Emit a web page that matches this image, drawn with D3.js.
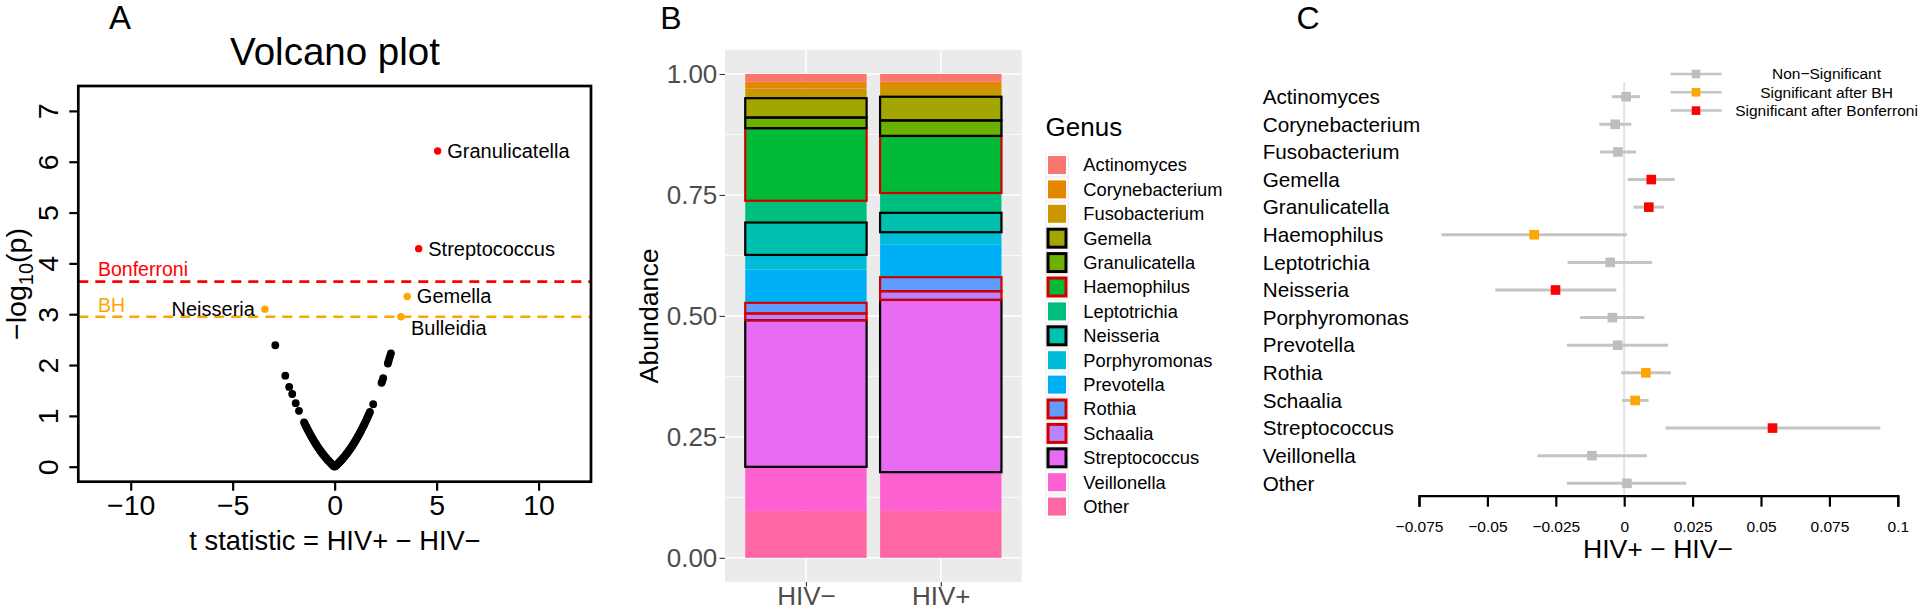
<!DOCTYPE html>
<html><head><meta charset="utf-8">
<script src="https://cdn.jsdelivr.net/npm/d3@7"></script>
<style>
body{margin:0;background:#fff;}
svg{display:block;font-family:"Liberation Sans",Arial,Helvetica,sans-serif;}
</style>
</head><body>
<svg id="chart" width="1920" height="610"></svg>
<script>
// ================= DATA =================
// Panel A: volcano plot
const volcanoNames = ["Granulicatella","Streptococcus","Gemella","Bulleidia","Neisseria"];
const volcanoT     = [5.05, 4.12, 3.56, 3.25, -3.42];
const volcanoLogP  = [6.21, 4.29, 3.35, 2.95, 3.10];
const volcanoSig   = ["bonf","bonf","bh","bh","bh"];
const volcanoLabelSide = ["right","right","right","belowright","left"];
const bonferroniThreshold = 3.64;
const bhThreshold = 2.95;
// other (non-significant) genera: [t, -log10 p]
const otherPointsT = [
 -2.91,-2.42,-2.23,-2.08,-1.91,-1.75,
 -1.50,-1.46,-1.42,-1.38,-1.34,-1.30,-1.26,-1.22,-1.18,-1.14,-1.10,-1.06,-1.02,-0.98,-0.94,-0.90,-0.86,-0.82,-0.78,-0.74,-0.70,-0.66,-0.62,-0.58,-0.54,-0.50,-0.46,-0.42,-0.38,-0.34,-0.30,-0.26,-0.22,-0.18,-0.14,-0.10,-0.06,-0.03,-0.01,
 0.02,0.06,0.10,0.14,0.18,0.22,0.26,0.30,0.34,0.38,0.42,0.46,0.50,0.54,0.58,0.62,0.66,0.70,0.74,0.78,0.82,0.86,0.90,0.94,0.98,1.02,1.06,1.10,1.14,1.18,1.22,1.26,1.30,1.34,1.38,1.42,1.46,1.50,1.54,1.58,1.62,1.66,1.70,1.73,
 1.89,2.30,2.34,2.38,2.61,2.64,2.68,2.72,2.76];
const otherPointsLogP = [
 2.39,1.79,1.57,1.43,1.25,1.10,
 0.874,0.841,0.808,0.776,0.744,0.713,0.683,0.653,0.623,0.595,0.567,0.539,0.512,0.485,0.459,0.434,0.409,0.385,0.361,0.338,0.315,0.293,0.271,0.250,0.230,0.210,0.190,0.171,0.153,0.134,0.117,0.100,0.083,0.067,0.051,0.036,0.021,0.010,0.003,
 0.007,0.021,0.036,0.051,0.067,0.083,0.100,0.117,0.134,0.153,0.171,0.190,0.210,0.230,0.250,0.271,0.293,0.315,0.338,0.361,0.385,0.409,0.434,0.459,0.485,0.512,0.539,0.567,0.595,0.623,0.653,0.683,0.713,0.744,0.776,0.808,0.841,0.874,0.908,0.943,0.978,1.014,1.050,1.077,
 1.23,1.65,1.69,1.74,2.03,2.07,2.13,2.18,2.23];
const volcanoXTicks = [-10,-5,0,5,10];
const volcanoYTicks = [0,1,2,3,4,5,6,7];

// Panel B: relative abundance
const groups = ["HIV\u2212","HIV+"];
const genera = ["Actinomyces","Corynebacterium","Fusobacterium","Gemella","Granulicatella","Haemophilus","Leptotrichia","Neisseria","Porphyromonas","Prevotella","Rothia","Schaalia","Streptococcus","Veillonella","Other"];
const abundHIVneg = [0.016,0.014,0.020,0.040,0.022,0.150,0.045,0.067,0.030,0.069,0.022,0.014,0.303,0.091,0.097];
const abundHIVpos = [0.016,0.011,0.020,0.049,0.032,0.118,0.041,0.040,0.025,0.068,0.029,0.018,0.356,0.080,0.097];
const generaSig   = ["ns","ns","ns","bonf","bonf","bh","ns","bonf","ns","ns","bh","bh","bonf","ns","ns"];
const abundTicks = [0,0.25,0.5,0.75,1];

// Panel C: difference HIV+ - HIV- with CI
const diffEst = [0.0007,-0.0033,-0.0023,0.0099,0.0090,-0.0329,-0.0051,-0.0251,-0.0043,-0.0024,0.0079,0.0040,0.0542,-0.0118,0.0010];
const diffLo  = [-0.0045,-0.0091,-0.0088,0.0013,0.0034,-0.0668,-0.0207,-0.0471,-0.0161,-0.0209,-0.0011,-0.0008,0.0151,-0.0317,-0.0209];
const diffHi  = [0.0058,0.0026,0.0043,0.0185,0.0145,0.0010,0.0102,-0.0029,0.0074,0.0160,0.0171,0.0089,0.0936,0.0083,0.0227];
const diffTicks = [-0.075,-0.05,-0.025,0,0.025,0.05,0.075,0.1];
const diffTickLabels = ["\u22120.075","\u22120.05","\u22120.025","0","0.025","0.05","0.075","0.1"];
const sigLevels = ["ns","bh","bonf"];
const sigLabels = ["Non\u2212Significant","Significant after BH","Significant after Bonferroni"];

// ================= STYLES =================
const genusColors = ["#F8766D","#E58700","#C99800","#A3A500","#6BB100","#00BA38","#00BF7D","#00C0AF","#00BCD8","#00B0F6","#619CFF","#B983FF","#E76BF3","#FD61D1","#FF67A4"];
const volcanoColor = {bonf:"#FF0000", bh:"#FFA500"};
const borderColor = {bonf:"#000000", bh:"#D00000", ns:null};
const forestColor = {ns:"#BEBEBE", bh:"#FFA500", bonf:"#FF0000"};

const svg = d3.select("#chart");
svg.append("rect").attr("width",1920).attr("height",610).attr("fill","#fff");

// ================= PANEL A =================
{
  const xA = d3.scaleLinear().domain([-12.57,12.57]).range([78.3,591]);
  const yA = d3.scaleLinear().domain([-0.295,7.49]).range([481.7,86]);
  const g = svg.append("g");

  g.append("text").attr("x",120).attr("y",29).attr("text-anchor","middle")
    .attr("font-size",33).text("A");
  g.append("text").attr("x",335).attr("y",65).attr("text-anchor","middle")
    .attr("font-size",38.5).text("Volcano plot");

  // threshold lines
  [[bonferroniThreshold,"#FF0000"],[bhThreshold,"#FFA500"]].forEach(([v,c])=>{
    g.append("line").attr("x1",xA.range()[0]).attr("x2",xA.range()[1])
      .attr("y1",yA(v)).attr("y2",yA(v)).attr("stroke",c)
      .attr("stroke-width",2.7).attr("stroke-dasharray","10,7");
  });
  g.append("text").attr("x",98).attr("y",yA(bonferroniThreshold)-6).attr("fill","#FF0000")
    .attr("font-size",19.5).text("Bonferroni");
  g.append("text").attr("x",98).attr("y",yA(bhThreshold)-5).attr("fill","#FFA500")
    .attr("font-size",19.5).text("BH");

  // background points
  g.append("g").selectAll("circle").data(otherPointsT).join("circle")
    .attr("cx",(d)=>xA(d)).attr("cy",(d,i)=>yA(otherPointsLogP[i]))
    .attr("r",3.9).attr("fill","#000");

  // significant points
  volcanoNames.forEach((n,i)=>{
    const px = xA(volcanoT[i]), py = yA(volcanoLogP[i]);
    g.append("circle").attr("cx",px).attr("cy",py).attr("r",3.7)
      .attr("fill",volcanoColor[volcanoSig[i]]);
    const side = volcanoLabelSide[i];
    const t = g.append("text").attr("font-size",20).attr("fill","#000").text(n);
    if (side==="right") t.attr("x",px+9.6).attr("y",py).attr("dy","0.35em");
    else if (side==="left") t.attr("x",px-10).attr("y",py).attr("dy","0.35em").attr("text-anchor","end");
    else t.attr("x",px+10).attr("y",py+11).attr("dy","0.35em");
  });

  // axes
  const ax = g.append("g").attr("transform",`translate(0,${yA.range()[0]})`)
    .call(d3.axisBottom(xA).tickValues(volcanoXTicks).tickSize(9).tickPadding(4)
      .tickFormat(d=> d<0 ? "\u2212"+Math.abs(d) : String(d)));
  ax.select(".domain").remove();
  ax.selectAll("line").attr("stroke","#000").attr("stroke-width",2.2);
  ax.selectAll("text").attr("font-size",28.5).attr("font-family",null).attr("fill","#000");

  const ay = g.append("g").attr("transform",`translate(${xA.range()[0]},0)`)
    .call(d3.axisLeft(yA).tickValues(volcanoYTicks).tickSize(9));
  ay.select(".domain").remove();
  ay.selectAll("line").attr("stroke","#000").attr("stroke-width",2.2);
  ay.selectAll("text").attr("font-size",28.5).attr("font-family",null).attr("fill","#000")
    .attr("x",null).attr("dy",null).attr("text-anchor","middle")
    .attr("transform","translate(-20,0) rotate(-90)");

  // box
  g.append("rect").attr("x",xA.range()[0]).attr("y",yA.range()[1])
    .attr("width",xA.range()[1]-xA.range()[0]).attr("height",yA.range()[0]-yA.range()[1])
    .attr("fill","none").attr("stroke","#000").attr("stroke-width",2.7);

  g.append("text").attr("x",335).attr("y",550).attr("text-anchor","middle")
    .attr("font-size",27.3).text("t statistic = HIV+ \u2212 HIV\u2212");
  const yt = g.append("text").attr("transform","translate(26,284) rotate(-90)")
    .attr("text-anchor","middle").attr("font-size",28.5);
  yt.append("tspan").text("\u2212log");
  yt.append("tspan").attr("font-size",20).attr("dy",7).text("10");
  yt.append("tspan").attr("dy",-7).text("(p)");
}

// ================= PANEL B =================
{
  const xB = d3.scaleLinear().domain([0.4,2.6]).range([725,1021.7]);
  const yB = d3.scaleLinear().domain([-0.05,1.05]).range([582,49.8]);
  const g = svg.append("g");
  g.append("text").attr("x",671).attr("y",29).attr("text-anchor","middle")
    .attr("font-size",32).text("B");

  g.append("rect").attr("x",xB.range()[0]).attr("y",yB.range()[1])
    .attr("width",xB.range()[1]-xB.range()[0]).attr("height",yB.range()[0]-yB.range()[1])
    .attr("fill","#EBEBEB");
  [0.125,0.375,0.625,0.875].forEach(v=>{
    g.append("line").attr("x1",xB.range()[0]).attr("x2",xB.range()[1])
      .attr("y1",yB(v)).attr("y2",yB(v)).attr("stroke","#fff").attr("stroke-width",0.8);
  });
  abundTicks.forEach(v=>{
    g.append("line").attr("x1",xB.range()[0]).attr("x2",xB.range()[1])
      .attr("y1",yB(v)).attr("y2",yB(v)).attr("stroke","#fff").attr("stroke-width",1.6);
  });
  groups.forEach((gr,i)=>{
    g.append("line").attr("x1",xB(i+1)).attr("x2",xB(i+1))
      .attr("y1",yB.range()[0]).attr("y2",yB.range()[1]).attr("stroke","#fff").attr("stroke-width",1.6);
  });

  const series = [abundHIVneg, abundHIVpos];
  const barW = xB(1.45)-xB(0.55);
  series.forEach((vals,gi)=>{
    // stack from bottom (last genus) to top (first genus)
    let cum = 0;
    const segs = [];
    for (let k=genera.length-1;k>=0;k--){
      segs.push({k, y0:cum, y1:cum+vals[k]});
      cum += vals[k];
    }
    const x0 = xB(gi+1)-barW/2;
    segs.forEach(s=>{
      g.append("rect").attr("x",x0).attr("y",yB(s.y1)).attr("width",barW)
        .attr("height",yB(s.y0)-yB(s.y1)).attr("fill",genusColors[s.k]);
    });
    segs.filter(s=>borderColor[generaSig[s.k]]).forEach(s=>{
      g.append("rect").attr("x",x0).attr("y",yB(s.y1)).attr("width",barW)
        .attr("height",yB(s.y0)-yB(s.y1)).attr("fill","none")
        .attr("stroke",borderColor[generaSig[s.k]]).attr("stroke-width",2.2);
    });
  });

  const ay = g.append("g").attr("transform",`translate(${xB.range()[0]},0)`)
    .call(d3.axisLeft(yB).tickValues(abundTicks).tickSize(5.5).tickPadding(2.2).tickFormat(d3.format(".2f")));
  ay.select(".domain").remove();
  ay.selectAll("line").attr("stroke","#333").attr("stroke-width",1.1);
  ay.selectAll("text").attr("font-size",26).attr("font-family",null).attr("fill","#4D4D4D");

  const ax = g.append("g").attr("transform",`translate(0,${yB.range()[0]})`)
    .call(d3.axisBottom(xB).tickValues([1,2]).tickSize(4.5).tickPadding(0).tickFormat(d=>groups[d-1]));
  ax.select(".domain").remove();
  ax.selectAll("line").attr("stroke","#333").attr("stroke-width",1.1);
  ax.selectAll("text").attr("font-size",26).attr("font-family",null).attr("fill","#4D4D4D");

  g.append("text").attr("transform",`translate(658,${(yB.range()[0]+yB.range()[1])/2}) rotate(-90)`)
    .attr("text-anchor","middle").attr("font-size",26.7).text("Abundance");

  // legend
  const lg = g.append("g");
  lg.append("text").attr("x",1045.6).attr("y",136).attr("font-size",26).text("Genus");
  genera.forEach((n,i)=>{
    const cy = 165 + i*24.4;
    lg.append("rect").attr("x",1057-11.5).attr("y",cy-11.5).attr("width",23).attr("height",23)
      .attr("fill","#fff").attr("stroke","#F0F0F0").attr("stroke-width",1);
    const bc = borderColor[generaSig[i]];
    lg.append("rect").attr("x",1057-9).attr("y",cy-9).attr("width",18).attr("height",18)
      .attr("fill",genusColors[i]).attr("stroke",bc||"none").attr("stroke-width",bc?3:0);
    lg.append("text").attr("x",1083.3).attr("y",cy).attr("dy","0.35em").attr("font-size",18.3).text(n);
  });
}

// ================= PANEL C =================
{
  const xC = d3.scaleLinear().domain([-0.075,0.1]).range([1419,1897.8]);
  const yC = d3.scalePoint().domain(genera).range([96.7,483.3]);
  const g = svg.append("g");
  g.append("text").attr("x",1308).attr("y",29).attr("text-anchor","middle")
    .attr("font-size",32).text("C");

  g.append("line").attr("x1",xC(0)).attr("x2",xC(0)).attr("y1",82).attr("y2",495.7)
    .attr("stroke","#E3E3E3").attr("stroke-width",2);

  genera.forEach((n,i)=>{
    const y = yC(n);
    g.append("text").attr("x",1262.7).attr("y",y).attr("dy","0.35em").attr("font-size",20.7).text(n);
    g.append("line").attr("x1",xC(diffLo[i])).attr("x2",xC(diffHi[i])).attr("y1",y).attr("y2",y)
      .attr("stroke","#C4C4C4").attr("stroke-width",3);
    g.append("rect").attr("x",xC(diffEst[i])-4.8).attr("y",y-4.8).attr("width",9.6).attr("height",9.6)
      .attr("fill",forestColor[generaSig[i]]);
  });

  const ax = g.append("g").attr("transform","translate(0,495.7)")
    .call(d3.axisBottom(xC).tickValues(diffTicks).tickSize(11).tickPadding(14)
      .tickFormat((d,i)=>diffTickLabels[i]));
  ax.select(".domain").attr("stroke","#000").attr("stroke-width",2.2);
  ax.selectAll("line").attr("stroke","#000").attr("stroke-width",2.2);
  ax.selectAll("text").attr("font-size",15.5).attr("font-family",null).attr("fill","#000");

  g.append("text").attr("x",1658).attr("y",558).attr("text-anchor","middle")
    .attr("font-size",26.6).text("HIV+ \u2212 HIV\u2212");

  // legend
  sigLevels.forEach((s,i)=>{
    const y = 74 + i*18.3;
    g.append("line").attr("x1",1670.7).attr("x2",1721.7).attr("y1",y).attr("y2",y)
      .attr("stroke","#C4C4C4").attr("stroke-width",2.5);
    g.append("rect").attr("x",1696-4.3).attr("y",y-4.3).attr("width",8.6).attr("height",8.6)
      .attr("fill",forestColor[s]);
    g.append("text").attr("x",1826.5).attr("y",y).attr("dy","0.35em").attr("text-anchor","middle")
      .attr("font-size",15.5).text(sigLabels[i]);
  });
}
</script>
</body></html>
